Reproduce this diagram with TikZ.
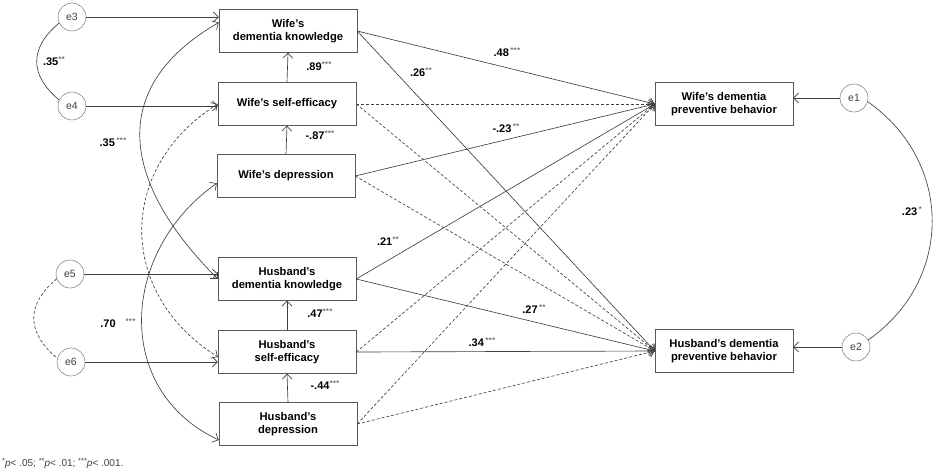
\documentclass[tikz,border=0pt]{standalone}
\usepackage{fontspec}
\setmainfont{Liberation Sans}
\usetikzlibrary{arrows.meta}
\newcommand{\coef}[2]{\textbf{#1}\raisebox{3.5pt}{\fontsize{8.5}{8.5}\selectfont\textcolor{black!70}{#2}}}
\newcommand{\sups}[1]{\raisebox{3pt}{\fontsize{7.5}{7.5}\selectfont #1}}

\begin{document}
\begin{tikzpicture}[x=1pt,y=-1pt,
box/.style={draw=black!65,minimum width=138pt,minimum height=43pt,align=center,font=\bfseries\fontsize{11.2}{13}\selectfont,inner sep=2pt},
err/.style={draw=black!65,circle,minimum size=28pt,inner sep=0pt,font=\fontsize{10.5}{12}\selectfont,text=black!75},
sig/.style={-{Straight Barb[length=5pt,width=10pt]},draw=black!75,line width=0.65pt},
nsig/.style={sig,dash pattern=on 3pt off 2pt},
cov/.style={{Straight Barb[length=5pt,width=10pt]}-{Straight Barb[length=5pt,width=10pt]},draw=black!75,line width=0.65pt},
est/.style={font=\fontsize{11}{12}\selectfont,inner sep=1pt}]
\useasboundingbox (0,0) rectangle (938,475);
\node[box] (wk) at (288,31) {Wife’s\\dementia knowledge};
\node[box] (wse) at (287,104) {Wife’s self-efficacy};
\node[box] (wd) at (286,176) {Wife’s depression};
\node[box] (hk) at (287,279) {Husband’s\\dementia knowledge};
\node[box] (hse) at (287,352) {Husband’s\\self-efficacy};
\node[box] (hd) at (288,424) {Husband’s\\depression};
\node[box] (wb) at (724,104) {Wife’s dementia\\preventive behavior};
\node[box] (hb) at (724,351) {Husband’s dementia\\preventive behavior};
\node[err] (e3) at (72,17) {e3};
\node[err] (e4) at (72,106) {e4};
\node[err] (e5) at (70,274) {e5};
\node[err] (e6) at (71,362) {e6};
\node[err] (e1) at (854,98) {e1};
\node[err] (e2) at (856,347) {e2};
\draw[sig] (e3) -- (e3 -| wk.west);
\draw[sig] (e4) -- (e4 -| wse.west);
\draw[sig] (e5) -- (e5 -| hk.west);
\draw[sig] (e6) -- (e6 -| hse.west);
\draw[sig] (e1) -- (e1 -| wb.east);
\draw[sig] (e2) -- (e2 -| hb.east);
\draw[sig] (wse.north) -- (wk.south);
\draw[sig] (wd.north) -- (wse.south);
\draw[sig] (hse.north) -- (hk.south);
\draw[sig] (hd.north) -- (hse.south);
\draw[sig] (wk.east) -- (wb.west);
\draw[sig] (wk.east) -- (hb.west);
\draw[nsig] (wse.east) -- (wb.west);
\draw[nsig] (wse.east) -- (hb.west);
\draw[sig] (wd.east) -- (wb.west);
\draw[nsig] (wd.east) -- (hb.west);
\draw[sig] (hk.east) -- (wb.west);
\draw[sig] (hk.east) -- (hb.west);
\draw[nsig] (hse.east) -- (wb.west);
\draw[sig] (hse.east) -- (hb.west);
\draw[nsig] (hd.east) -- (wb.west);
\draw[nsig] (hd.east) -- (hb.west);
\draw[cov] (wk.173) to[out=210,in=135,looseness=1.32] (hk.west);
\draw[cov,dash pattern=on 3pt off 2pt] (wse.west) to[out=212,in=148,looseness=1.21] (hse.184);
\draw[cov] (wd.186) to[out=215,in=155,looseness=1.17] (hd.193);
\draw[draw=black!75,line width=0.65pt] (e3.205) to[out=220,in=140,looseness=1.3] (e4.155);
\draw[draw=black!75,line width=0.65pt,dash pattern=on 3pt off 2pt] (e5.200) to[out=220,in=140,looseness=1.3] (e6.165);
\draw[draw=black!75,line width=0.65pt] (e1.-15) to[out=-35,in=35,looseness=1.12] (e2.30);
\node[est] (c1) at (319,66) {\coef{.89}{***}};
\node[est] (c2) at (320,135) {\coef{-.87}{***}};
\node[est] (c3) at (320,313) {\coef{.47}{***}};
\node[est] (c4) at (325,385) {\coef{-.44}{***}};
\node[est] (c5) at (54,61) {\coef{.35}{**}};
\node[est] (c6) at (113,142) {\coef{.35}{\,***}};
\node[est] (c7) at (118,323) {\coef{.70}{\hspace{10pt}***}};
\node[est] (c8) at (507,52) {\coef{.48}{\,***}};
\node[est] (c9) at (421,72) {\coef{.26}{**}};
\node[est] (c10) at (506,128) {\coef{-.23}{\,**}};
\node[est] (c11) at (388,241) {\coef{.21}{**}};
\node[est] (c12) at (534,309) {\coef{.27}{\,**}};
\node[est] (c13) at (482,342) {\coef{.34}{\,***}};
\node[est] (c14) at (912,211) {\coef{.23}{\,*}};
\node[anchor=west,font=\fontsize{10}{12}\selectfont,text=black!75,inner sep=0pt] (note) at (2,463) {\sups{*}\textit{p}<\ .05; \sups{**}\textit{p}<\ .01; \sups{***}\textit{p}<\ .001.};
\end{tikzpicture}
\end{document}
